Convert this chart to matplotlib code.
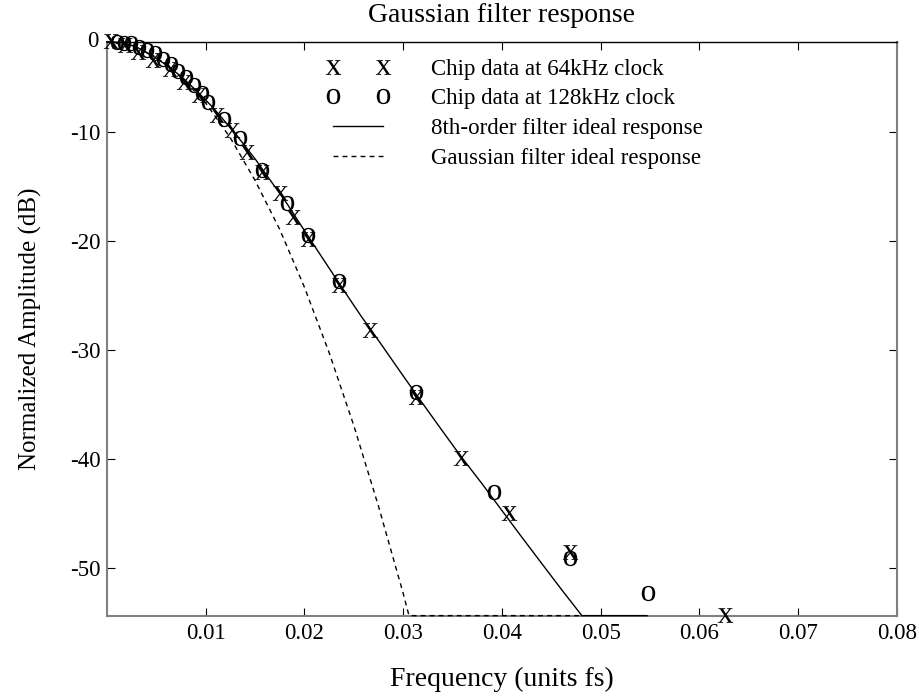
import matplotlib
matplotlib.use("Agg")
import matplotlib.pyplot as plt
from matplotlib.legend_handler import HandlerLine2D

plt.rcParams['font.family'] = ['Liberation Serif', 'DejaVu Serif']
plt.rcParams['mathtext.fontset'] = 'custom'
plt.rcParams['mathtext.rm'] = 'Liberation Serif'

# chip data, 64kHz clock (frequency in units of fs, amplitude in dB)
f64 = [0.0004, 0.0018, 0.0032, 0.0047, 0.0064, 0.0078, 0.0093, 0.0112, 0.0127,
       0.0142, 0.0157, 0.0175, 0.0189, 0.0204, 0.0235, 0.0267, 0.0313, 0.0359,
       0.0407, 0.0469, 0.0626]
db64 = [-1.64, -1.98, -2.60, -3.36, -4.21, -5.35, -6.57, -8.41, -9.79,
        -11.78, -13.65, -15.60, -17.75, -19.80, -24.02, -28.15, -34.31, -39.94,
        -44.99, -48.51, -54.32]

# chip data, 128kHz clock
f128 = [0.0010, 0.0017, 0.0025, 0.0033, 0.0041, 0.0049, 0.0057, 0.0065, 0.0072,
        0.0080, 0.0088, 0.0096, 0.0103, 0.0119, 0.0135, 0.0157, 0.0182, 0.0204,
        0.0235, 0.0313, 0.0392, 0.0469, 0.0548]
db128 = [-1.68, -1.77, -1.83, -2.19, -2.44, -2.75, -3.30, -3.73, -4.34,
         -4.95, -5.66, -6.36, -7.19, -8.81, -10.55, -13.46, -16.46, -19.43,
         -23.65, -33.85, -43.00, -49.12, -52.28]

# ideal responses
f_8th = [0.0, 0.0015, 0.0030, 0.0045, 0.0060, 0.0076, 0.0091, 0.0106, 0.0121,
         0.0136, 0.0151, 0.0166, 0.0182, 0.0197, 0.0217, 0.0237, 0.0257, 0.0278,
         0.0298, 0.0318, 0.0338, 0.0358, 0.0379, 0.0399, 0.0419, 0.0439, 0.0459,
         0.0481, 0.0547]
db_8th = [-1.71, -1.75, -2.17, -2.90, -3.82, -4.92, -6.21, -7.59, -9.15,
          -10.80, -12.55, -14.47, -16.49, -18.60, -21.36, -24.11, -26.82, -29.49,
          -32.10, -34.67, -37.20, -39.70, -42.16, -44.60, -47.03, -49.43, -51.82,
          -54.38, -54.38]

f_gauss = [0.0, 0.0025, 0.0050, 0.0075, 0.0100, 0.0125, 0.0150, 0.0175, 0.0200,
           0.0225, 0.0250, 0.0275, 0.0300, 0.0306, 0.0481]
db_gauss = [-1.71, -2.05, -3.10, -4.90, -7.30, -10.50, -14.40, -18.90, -24.20,
            -30.20, -36.90, -44.30, -52.30, -54.38, -54.38]

xticks = [0.01, 0.02, 0.03, 0.04, 0.05, 0.06, 0.07, 0.08]
yticks = [-50, -40, -30, -20, -10]

fig = plt.figure(figsize=(9.2, 6.98), dpi=100)
ax = fig.add_axes([0.116, 0.118, 0.859, 0.822])

ax.plot(f64, db64, linestyle='none', marker=r'$\mathrm{x}$', markersize=11,
        mew=0, color='black', clip_on=False, zorder=4,
        label='Chip data at 64kHz clock')
ax.plot(f128, db128, linestyle='none', marker=r'$\mathrm{o}$', markersize=11,
        mew=0, color='black', clip_on=False, zorder=4,
        label='Chip data at 128kHz clock')
ax.plot(f_8th, db_8th, color='black', lw=1.0, clip_on=False, zorder=3,
        label='8th-order filter ideal response')
ax.plot(f_gauss, db_gauss, color='black', lw=1.0, linestyle=(0, (3.5, 3)),
        clip_on=False, zorder=3, label='Gaussian filter ideal response')

ax.set_xlim(0, 0.08)
ax.set_ylim(-54.38, -1.71)
ax.set_xticks(xticks)
ax.set_xticklabels(['%g' % t for t in xticks])
ax.set_yticks(yticks)
ax.set_yticklabels(['%d' % t for t in yticks])
ax.tick_params(direction='in', length=5.5, width=0.8, labelsize=16.5,
               top=True, right=True, pad=5)
ax.tick_params(axis='y', pad=4.5)
# top of the amplitude scale is labelled 0 in the original
ax.annotate('0', xy=(0, 1), xycoords='axes fraction', xytext=(-6, 0),
            textcoords='offset points', ha='right', va='center', fontsize=16.5)

for side in ['left', 'bottom', 'right']:
    ax.spines[side].set_color('#808080')
    ax.spines[side].set_linewidth(1.5)
ax.spines['top'].set_color('black')
ax.spines['top'].set_linewidth(1.0)

ax.set_title('Gaussian filter response', fontsize=20, pad=14)
ax.set_xlabel('Frequency (units fs)', fontsize=20, labelpad=17)
ax.set_ylabel('Normalized Amplitude (dB)', fontsize=18, labelpad=20)

ax.legend(loc='upper left', bbox_to_anchor=(0.286, 0.971), frameon=False,
          fontsize=16.5, numpoints=2, handlelength=2.2, handletextpad=2.1,
          labelspacing=0.38, borderpad=0, borderaxespad=0,
          handler_map={plt.Line2D: HandlerLine2D(marker_pad=0)})

fig.savefig('out.png', dpi=100)
